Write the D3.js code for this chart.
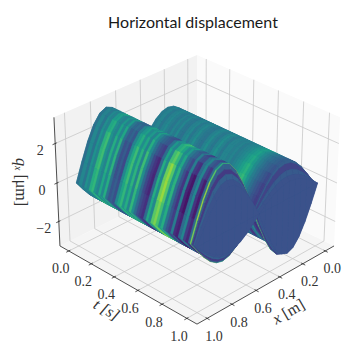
<!DOCTYPE html>
<html>
<head>
<meta charset="utf-8">
<script src="https://cdnjs.cloudflare.com/ajax/libs/d3/7.8.5/d3.min.js"></script>
<style>
  html, body { margin: 0; padding: 0; background: #fff; }
  svg { display: block; }
</style>
</head>
<body>
<svg id="chart" width="357" height="354"></svg>
<script>
// tick labels
const tTicks = [0, 0.2, 0.4, 0.6, 0.8, 1]
const xTicks = [0, 0.2, 0.4, 0.6, 0.8, 1]
const zTicks = [-2, 0, 2]

const xSamples = [0, 0.05, 0.1, 0.15, 0.2, 0.25, 0.3, 0.35, 0.4, 0.45, 0.5, 0.55, 0.6, 0.65, 0.7, 0.75, 0.8, 0.85, 0.9, 0.95, 1]
const lobeShape = [0, 0.31, 0.59, 0.81, 0.95, 1, 0.95, 0.81, 0.59, 0.31, 0, 0.31, 0.59, 0.81, 0.95, 1, 0.95, 0.81, 0.59, 0.31, 0]
// how strongly the stripes show at each x: they wash out on the crests
const stripeStrength = [0.6, 0.6, 0.6, 0.55, 0.5, 0.5, 0.6, 0.75, 0.9, 1, 1, 1.05, 1.1, 1.1, 0.85, 0.5, 0.65, 1.05, 1.15, 1.1, 0.9]

// stripes along t (colour, on the viridis scale)
const sliceTimes = [0, 0.02, 0.05, 0.07, 0.09, 0.11, 0.13, 0.15, 0.17, 0.19, 0.21, 0.23, 0.25, 0.27, 0.29, 0.31, 0.33, 0.35, 0.37, 0.39,
  0.41, 0.43, 0.45, 0.47, 0.49, 0.51, 0.53, 0.55, 0.57, 0.59, 0.61, 0.63, 0.65, 0.67, 0.69, 0.71, 0.73, 0.75, 0.77, 0.79,
  0.81, 0.83, 0.85, 0.87, 0.89, 0.91, 0.93, 0.945, 0.955, 0.962, 0.972, 0.982, 1]
const frontValues = [0.42, 0.36, 0.46, 0.38, 0.5, 0.44, 0.62, 0.66, 0.5, 0.44, 0.6, 0.46, 0.62, 0.36, 0.26, 0.3, 0.24, 0.46, 0.58, 0.66,
  0.5, 0.62, 0.44, 0.66, 0.48, 0.34, 0.24, 0.18, 0.14, 0.34, 0.6, 0.46, 0.74, 0.8, 0.7, 0.5, 0.62, 0.38, 0.26, 0.18,
  0.42, 0.13, 0.09, 0.34, 0.46, 0.18, 0.11, 0.34, 0.8, 0.3, 0.17, 0.3, 0.25]
const backValues = [0.42, 0.4, 0.45, 0.38, 0.44, 0.48, 0.42, 0.38, 0.46, 0.4, 0.48, 0.38, 0.36, 0.44, 0.48, 0.38, 0.44, 0.5, 0.42, 0.38,
  0.36, 0.44, 0.5, 0.42, 0.38, 0.46, 0.52, 0.44, 0.38, 0.46, 0.46, 0.42, 0.46, 0.4, 0.44, 0.48, 0.52, 0.58, 0.64, 0.68,
  0.6, 0.5, 0.42, 0.36, 0.3, 0.26, 0.22, 0.18, 0.2, 0.3, 0.2, 0.28, 0.25]

// crest heights in micrometres
const frontUpAmp = 3.1
const frontDownAmp = 1.55
const backUpAmp = 1.7
const backDownAmp = 2.6
// the last slices close in on the end face
const tailFrontUp = [3.1, 2.85, 2.65, 2.4, 2.15]
const tailFrontDown = [1.7, 1.6, 1.45, 1.3, 1.1]
const tailBackUp = [1.7, 1.6, 1.3, 1.05, 0.85]
const tailBackDown = [3, 3, 2.95, 2.9, 2.85]

// view
const margin = 0.08
const zLimit = 3.3
const elev = 30 * Math.PI / 180
const azim = 45 * Math.PI / 180
const dist = 10
const focal = 1732
const cx = 197
const cy = 183
const boxSide = 1.143
const boxHeight = 0.857
const baseValue = 0.42

const xScale = d3.scaleLinear().domain([-margin, 1 + margin]).range([-boxSide / 2, boxSide / 2])
const tScale = d3.scaleLinear().domain([-margin, 1 + margin]).range([-boxSide / 2, boxSide / 2])
const zScale = d3.scaleLinear().domain([-zLimit, zLimit]).range([-boxHeight / 2, boxHeight / 2])
const colour = d3.scaleSequential(d3.interpolateViridis).domain([0, 1])

const xLo = -margin, xHi = 1 + margin
const tLo = -margin, tHi = 1 + margin

// perspective projection, same camera as a matplotlib 3d axes
function project(x, t, z) {
  const wx = xScale(x), wy = tScale(t), wz = zScale(z)
  const ex = Math.cos(elev) * Math.cos(azim), ey = Math.cos(elev) * Math.sin(azim), ez = Math.sin(elev)
  const depth = wx * ex + wy * ey + wz * ez
  const right = -wx * Math.sin(azim) + wy * Math.cos(azim)
  const up = -wx * Math.sin(elev) * Math.cos(azim) - wy * Math.sin(elev) * Math.sin(azim) + wz * Math.cos(elev)
  return [cx + focal * right / (dist - depth), cy - focal * up / (dist - depth)]
}

const svg = d3.select(`#chart`)
const line = d3.line()
const polyPath = pts => line(pts.map(p => project(p[0], p[1], p[2]))) + `Z`

///////////////////////////////////////////////////////////////////////////////
//// BOX
///////////////////////////////////////////////////////////////////////////////

const panes = [
  { fill: `#f5f5f5`, pts: [[xLo, tLo, -zLimit], [xHi, tLo, -zLimit], [xHi, tHi, -zLimit], [xLo, tHi, -zLimit]] },
  { fill: `#f2f2f2`, pts: [[xLo, tLo, -zLimit], [xHi, tLo, -zLimit], [xHi, tLo, zLimit], [xLo, tLo, zLimit]] },
  { fill: `#fafafa`, pts: [[xLo, tLo, -zLimit], [xLo, tHi, -zLimit], [xLo, tHi, zLimit], [xLo, tLo, zLimit]] }
]
svg.append(`g`).selectAll(`path`).data(panes).join(`path`)
  .attr(`d`, d => polyPath(d.pts))
  .attr(`fill`, d => d.fill)

const gridLines = [
  ...tTicks.map(t => [[xHi, t, -zLimit], [xLo, t, -zLimit], [xLo, t, zLimit]]),
  ...xTicks.map(x => [[x, tHi, -zLimit], [x, tLo, -zLimit], [x, tLo, zLimit]]),
  ...zTicks.map(z => [[xHi, tLo, z], [xLo, tLo, z], [xLo, tHi, z]])
]
svg.append(`g`).selectAll(`path`).data(gridLines).join(`path`)
  .attr(`d`, d => line(d.map(p => project(p[0], p[1], p[2]))))
  .attr(`fill`, `none`)
  .attr(`stroke`, `#c8c8c8`)
  .attr(`stroke-width`, 0.8)

// the axis lines
const axisLines = [
  [[xHi, tLo, -zLimit], [xHi, tHi, -zLimit]],
  [[xHi, tHi, -zLimit], [xLo, tHi, -zLimit]],
  [[xHi, tLo, -zLimit], [xHi, tLo, zLimit]]
]
const tickMarks = [
  ...tTicks.map(t => [[xHi - 0.012, t, -zLimit], [xHi + 0.02, t, -zLimit]]),
  ...xTicks.map(x => [[x, tHi - 0.012, -zLimit], [x, tHi + 0.02, -zLimit]]),
  ...zTicks.map(z => [[xHi - 0.012, tLo, z], [xHi + 0.02, tLo, z]])
]
svg.append(`g`).selectAll(`path`).data(axisLines.concat(tickMarks)).join(`path`)
  .attr(`d`, d => line(d.map(p => project(p[0], p[1], p[2]))))
  .attr(`fill`, `none`)
  .attr(`stroke`, `#222`)
  .attr(`stroke-width`, 0.8)

///////////////////////////////////////////////////////////////////////////////
//// SURFACE
///////////////////////////////////////////////////////////////////////////////

// amplitudes of one slice: [frontUp, frontDown, backUp, backDown]
function sliceAmps(j) {
  const tail = j - (sliceTimes.length - tailFrontUp.length)
  if(tail < 0) return [frontUpAmp, frontDownAmp, backUpAmp, backDownAmp]
  return [tailFrontUp[tail], tailFrontDown[tail], tailBackUp[tail], tailBackDown[tail]]
}

const faces = []
const lastSlice = sliceTimes.length - 1

sliceTimes.forEach((t, j) => {
  const prevT = j === 0 ? t : sliceTimes[j - 1]
  const amps = sliceAmps(j)
  const prevAmps = sliceAmps(Math.max(j - 1, 0))
  const flat = j >= lastSlice - 3

  for(let k = 0; k < xSamples.length - 1; k++) {
    const x0 = xSamples[k], x1 = xSamples[k + 1]
    const s0 = lobeShape[k], s1 = lobeShape[k + 1]
    const isFront = x1 > 0.5
    const up = isFront ? amps[0] : amps[2], down = isFront ? amps[1] : amps[3]
    const prevUp = isFront ? prevAmps[0] : prevAmps[2], prevDown = isFront ? prevAmps[1] : prevAmps[3]
    const strength = flat ? 1 : (stripeStrength[k] + stripeStrength[k + 1]) / 2
    const tone = v => colour(baseValue + (v - baseValue) * strength)
    const upperFill = tone(isFront ? frontValues[j] : backValues[j])
    const lowerFill = tone(frontValues[j])

    // skin between this slice and the previous one, then the slice itself
    faces.push({ fill: upperFill, pts: [[x0, prevT, prevUp * s0], [x1, prevT, prevUp * s1], [x1, t, up * s1], [x0, t, up * s0]] })
    faces.push({ fill: lowerFill, pts: [[x0, prevT, -prevDown * s0], [x1, prevT, -prevDown * s1], [x1, t, -down * s1], [x0, t, -down * s0]] })
    faces.push({ fill: upperFill, pts: [[x0, t, 0], [x1, t, 0], [x1, t, up * s1], [x0, t, up * s0]] })
    faces.push({ fill: lowerFill, pts: [[x0, t, 0], [x1, t, 0], [x1, t, -down * s1], [x0, t, -down * s0]] })
  }
})

svg.append(`g`).selectAll(`path`).data(faces).join(`path`)
  .attr(`d`, d => polyPath(d.pts))
  .attr(`fill`, d => d.fill)
  .attr(`stroke`, d => d.fill)
  .attr(`stroke-width`, 0.3)
  .attr(`stroke-linejoin`, `round`)

///////////////////////////////////////////////////////////////////////////////
//// TEXT
///////////////////////////////////////////////////////////////////////////////

const numFormat = d3.format(`.1f`)
const serif = `"Liberation Serif", serif`

function tickLabel(pos, dx, dy, text) {
  svg.append(`text`)
    .attr(`x`, pos[0] + dx)
    .attr(`y`, pos[1] + dy)
    .attr(`text-anchor`, `middle`)
    .attr(`dominant-baseline`, `central`)
    .attr(`font-family`, serif)
    .attr(`font-size`, 14)
    .attr(`fill`, `#333`)
    .text(text)
}

tTicks.forEach(t => tickLabel(project(xHi, t, -zLimit), -8, 18, numFormat(t)))
xTicks.forEach(x => tickLabel(project(x, tHi, -zLimit), 7, 18, numFormat(x)))
zTicks.forEach(z => tickLabel(project(xHi, tLo, z), -15, 7, z < 0 ? `\u2212${Math.abs(z)}` : `${z}`))

svg.append(`text`)
  .attr(`x`, 193).attr(`y`, 28)
  .attr(`text-anchor`, `middle`)
  .attr(`font-family`, `Lato, sans-serif`)
  .attr(`font-size`, 16)
  .attr(`fill`, `#1a1a1a`)
  .text(`Horizontal displacement`)

function axisLabel(cxPos, cyPos, angle, parts) {
  const label = svg.append(`text`)
    .attr(`transform`, `translate(${cxPos},${cyPos}) rotate(${angle})`)
    .attr(`text-anchor`, `middle`)
    .attr(`dominant-baseline`, `central`)
    .attr(`font-family`, serif)
    .attr(`font-size`, 15)
    .attr(`fill`, `#333`)
  parts.forEach(p => label.append(`tspan`)
    .attr(`font-style`, p.italic ? `italic` : `normal`)
    .attr(`font-size`, p.size || 16)
    .attr(`dy`, p.dy || 0)
    .text(p.text))
}

axisLabel(288, 311, -30, [{ text: `x`, italic: true }, { text: ` [m]` }])
axisLabel(107, 309, 30, [{ text: `t`, italic: true }, { text: ` [s]`, italic: true }])
axisLabel(22, 182, 90, [{ text: `q`, italic: true }, { text: `x`, italic: true, size: 10, dy: 3 }, { text: ` [\u03bcm]`, dy: -3 }])
</script>
</body>
</html>
